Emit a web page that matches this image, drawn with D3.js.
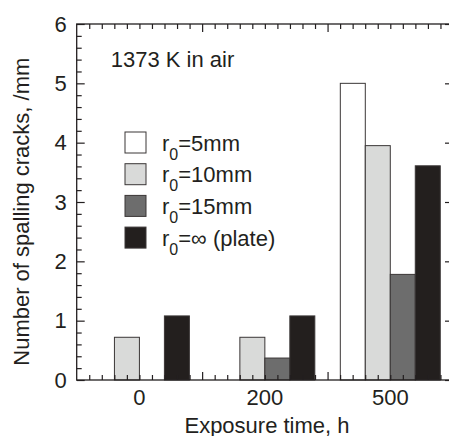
<!DOCTYPE html>
<html lang="en">
<head>
    <meta charset="UTF-8">
    <script src="https://d3js.org/d3.v7.min.js"></script>
    <title>Spalling cracks</title>
    <style>
        body { margin: 0; background: white; }
        text { font-family: "Liberation Sans", Arial, sans-serif; fill: #231f20; }
    </style>
</head>
<body>
<div id="chart"></div>
<script>
    // data
    var exposure = ["0", "200", "500"];
    var seriesNames = ["r5", "r10", "r15", "plate"];
    var legendLabels = ["=5mm", "=10mm", "=15mm", "=\u221e (plate)"];
    var r5 = [0, 0, 5.0];
    var r10 = [0.72, 0.72, 3.95];
    var r15 = [0, 0.37, 1.78];
    var plate = [1.08, 1.08, 3.61];
    var yTicks = [0, 1, 2, 3, 4, 5, 6];
    var colors = ["#ffffff", "#d9dad9", "#6d6d6d", "#231f1e"];

    var values = [r5, r10, r15, plate];

    var canvasWidth = 449;
    var canvasHeight = 436;
    var plotLeft = 76.7, plotRight = 453, plotTop = 24, plotBottom = 380;
    var ink = "#231f20";

    var svg = d3.select("#chart").append("svg")
        .attr("width", canvasWidth)
        .attr("height", canvasHeight);

    var x0 = d3.scaleBand().domain(exposure).range([plotLeft, plotRight]).padding(0);
    var x1 = d3.scaleBand().domain(seriesNames).range([0, x0.bandwidth()]).paddingInner(0).paddingOuter(0.51);
    var xLin = d3.scaleLinear().domain([0, 3]).range([plotLeft, plotRight]);
    var yScale = d3.scaleLinear().domain([0, 6]).range([plotBottom, plotTop]);

    // bars
    var bars = [];
    exposure.forEach(function (e, i) {
        seriesNames.forEach(function (s, j) {
            if (values[j][i] > 0) bars.push({e: e, s: s, j: j, v: values[j][i]});
        });
    });
    svg.append("g").selectAll("rect").data(bars).enter().append("rect")
        .attr("x", function (d) { return x0(d.e) + x1(d.s); })
        .attr("width", x1.bandwidth())
        .attr("y", function (d) { return yScale(d.v); })
        .attr("height", function (d) { return yScale(0) - yScale(d.v); })
        .attr("fill", function (d) { return colors[d.j]; })
        .attr("stroke", "#3a3636")
        .attr("stroke-width", 1);

    // frame
    svg.append("rect")
        .attr("x", plotLeft).attr("y", plotTop)
        .attr("width", plotRight - plotLeft).attr("height", plotBottom - plotTop)
        .attr("fill", "none").attr("stroke", ink).attr("stroke-width", 1.3);

    function styleAxis(g) {
        g.select(".domain").remove();
        g.selectAll("line").attr("stroke", ink).attr("stroke-width", 1.2);
        g.selectAll("text").attr("font-size", "22px").attr("fill", ink)
            .attr("font-family", "Liberation Sans, Arial, sans-serif");
    }

    var minorX = d3.range(1, 30).filter(function (k) { return k % 10 !== 0; }).map(function (k) { return k / 10; });
    var majorX = [1, 2];
    var minorY = d3.range(1, 30).filter(function (k) { return k % 5 !== 0; }).map(function (k) { return k / 5; });

    // top axis ticks
    svg.append("g").attr("transform", "translate(0," + plotTop + ")")
        .call(d3.axisTop(xLin).tickValues(minorX).tickSize(-5).tickFormat(""))
        .call(styleAxis);
    svg.append("g").attr("transform", "translate(0," + plotTop + ")")
        .call(d3.axisTop(xLin).tickValues(majorX).tickSize(-8).tickFormat(""))
        .call(styleAxis);

    // bottom axis ticks
    svg.append("g").attr("transform", "translate(0," + plotBottom + ")")
        .call(d3.axisBottom(xLin).tickValues(minorX).tickSize(-5).tickFormat(""))
        .call(styleAxis);
    svg.append("g").attr("transform", "translate(0," + plotBottom + ")")
        .call(d3.axisBottom(xLin).tickValues(majorX).tickSize(-8).tickFormat(""))
        .call(styleAxis);

    // category labels
    svg.append("g").attr("transform", "translate(0," + plotBottom + ")")
        .call(d3.axisBottom(x0).tickSize(0).tickPadding(9))
        .call(styleAxis);

    // left axis
    svg.append("g").attr("transform", "translate(" + plotLeft + ",0)")
        .call(d3.axisLeft(yScale).tickValues(minorY).tickSize(-5).tickFormat(""))
        .call(styleAxis);
    svg.append("g").attr("transform", "translate(" + plotLeft + ",0)")
        .call(d3.axisLeft(yScale).tickValues(yTicks).tickFormat(d3.format("d"))
            .tickSizeInner(-8).tickSizeOuter(0).tickPadding(10))
        .call(styleAxis);

    // right axis
    svg.append("g").attr("transform", "translate(" + plotRight + ",0)")
        .call(d3.axisRight(yScale).tickValues(yTicks).tickSize(-8).tickFormat(""))
        .call(styleAxis);

    // axis titles
    svg.append("text")
        .attr("x", 267).attr("y", 433)
        .attr("text-anchor", "middle")
        .attr("font-size", "22px")
        .text("Exposure time, h");
    svg.append("text")
        .attr("transform", "translate(28.5,211.7) rotate(-90)")
        .attr("text-anchor", "middle")
        .attr("font-size", "22px")
        .text("Number of spalling cracks, /mm");

    svg.append("text")
        .attr("x", 110.7).attr("y", 66.7)
        .attr("font-size", "22px")
        .text("1373 K in air");

    // legend
    var legend = svg.append("g").selectAll("g").data(seriesNames).enter().append("g")
        .attr("transform", function (d, i) { return "translate(125," + (132 + i * 31.7) + ")"; });
    legend.append("rect")
        .attr("width", 21).attr("height", 21)
        .attr("fill", function (d, i) { return colors[i]; })
        .attr("stroke", "#3a3636").attr("stroke-width", 1);
    var lt = legend.append("text")
        .attr("x", 37).attr("y", 18.5)
        .attr("font-size", "22px");
    lt.append("tspan").text("r");
    lt.append("tspan").attr("font-size", "16px").attr("dy", 9).text("0");
    lt.append("tspan").attr("dy", -9).text(function (d, i) { return legendLabels[i]; });
</script>
</body>
</html>
